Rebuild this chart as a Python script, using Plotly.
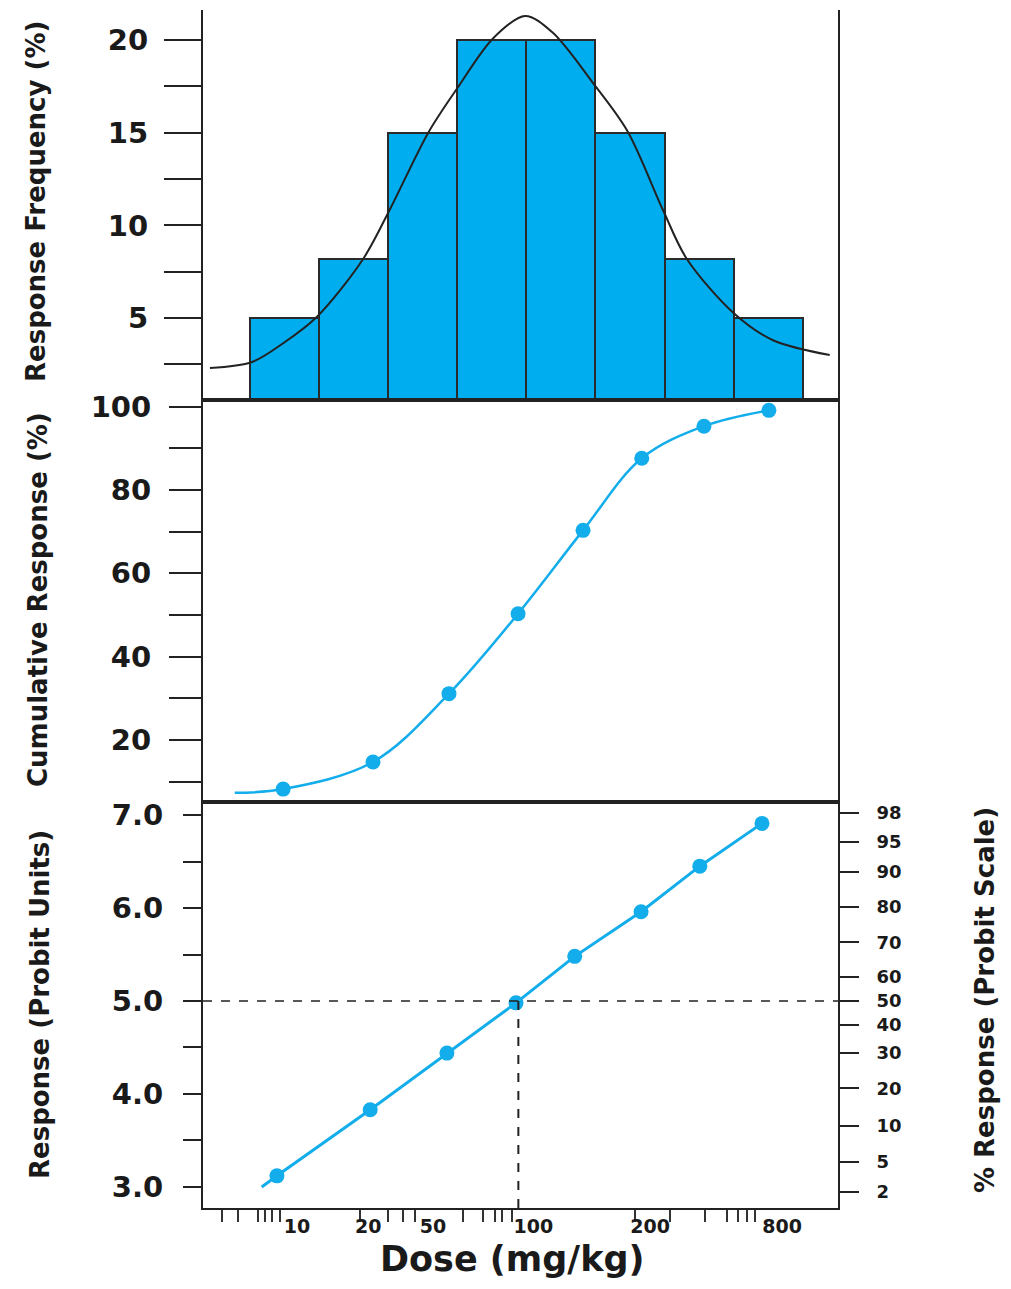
import numpy as np
import plotly.graph_objects as go

# ---------------- data (x = log-dose class position, bins of equal log width) ----------------
bin_centers = [0.5, 1.5, 2.5, 3.5, 4.5, 5.5, 6.5, 7.5]
response_freq = [5, 8.2, 15, 20, 20, 15, 8.2, 5]

normal_curve_x = [-0.58, 0.03, 0.48, 0.97, 1.64, 2.03, 2.58, 3.0, 3.52, 3.98,
                  4.38, 4.96, 5.46, 5.98, 6.32, 6.99, 7.57, 8.39]
normal_curve_y = [2.3, 2.63, 3.64, 5.07, 8.2, 10.9, 15.0, 17.4, 20.1, 21.3,
                  20.4, 17.7, 15.1, 10.8, 8.2, 5.3, 3.8, 3.0]

cum_x = [0.48, 1.78, 2.88, 3.88, 4.82, 5.67, 6.57, 7.51]
cum_y = [8.2, 14.7, 31.1, 50.3, 70.3, 87.6, 95.3, 99.1]
cum_curve_start_x = [-0.22]
cum_curve_start_y = [7.3]

probit_x = [0.39, 1.74, 2.85, 3.85, 4.70, 5.66, 6.51, 7.41]
probit_y = [3.12, 3.83, 4.44, 4.98, 5.48, 5.96, 6.45, 6.91]
probit_line_start_x = [0.17]
probit_line_start_y = [3.0]
probit_50 = 5.0

# tick labels
dose_tick_labels = ["10", "20", "50", "100", "200", "800"]
dose_tick_pos = [0.68, 1.71, 2.65, 4.10, 5.79, 7.70]
dose_minor_pos = [-0.41, -0.17, 0.12, 0.22, 0.32, 0.43, 1.59, 2.00, 2.21, 2.39,
                  3.08, 3.37, 3.55, 3.65, 3.79, 5.57, 6.08, 6.58, 6.90, 7.06, 7.19, 7.31]
pct_labels = ["98", "95", "90", "80", "70", "60", "50", "40", "30", "20", "10", "5", "2"]
pct_probit_pos = [7.02, 6.71, 6.39, 6.01, 5.63, 5.26, 5.0, 4.74, 4.44, 4.06, 3.66, 3.27, 2.95]

# ---------------- styling ----------------
CYAN = "#12ADEA"
BAR = "#00AEEF"
DARK = "#222222"
TXT = "#1a1a1a"
TICKFONT = dict(family="DejaVu Sans", size=29, color=TXT, weight="bold")
TITLEFONT = dict(family="DejaVu Sans", size=26, color=TXT, weight="bold")
XRANGE = [-0.68, 8.51]

# page body has an 8px margin: figure is sized/offset to compensate
OFF = 8
FIG_W, FIG_H = 1011 - 2 * OFF, 1289 - 2 * OFF
PLOT_L, PLOT_R, PLOT_T, PLOT_B = 203, 838, 10, 1208   # target page pixels

fig = go.Figure()

fig.add_trace(go.Bar(x=bin_centers, y=response_freq, width=1.0,
                     marker=dict(color=BAR, line=dict(color="#2a2a2a", width=2)),
                     xaxis="x", yaxis="y", showlegend=False))
fig.add_trace(go.Scatter(x=normal_curve_x, y=normal_curve_y, mode="lines",
                         line=dict(color=DARK, width=2, shape="spline", smoothing=0.9),
                         xaxis="x", yaxis="y", showlegend=False))

fig.add_trace(go.Scatter(x=cum_curve_start_x + cum_x, y=cum_curve_start_y + cum_y, mode="lines",
                         line=dict(color=CYAN, width=2.5, shape="spline", smoothing=1.0),
                         xaxis="x2", yaxis="y2", showlegend=False))
fig.add_trace(go.Scatter(x=cum_x, y=cum_y, mode="markers",
                         marker=dict(color=CYAN, size=15),
                         xaxis="x2", yaxis="y2", showlegend=False))

fig.add_trace(go.Scatter(x=probit_line_start_x + probit_x, y=probit_line_start_y + probit_y,
                         mode="lines", line=dict(color=CYAN, width=3),
                         xaxis="x3", yaxis="y3", showlegend=False))
fig.add_trace(go.Scatter(x=probit_x, y=probit_y, mode="markers",
                         marker=dict(color=CYAN, size=15),
                         xaxis="x3", yaxis="y3", showlegend=False))

# LD50 position from the probit data
ld50_x = float(np.interp(probit_50, probit_y, probit_x))

y3_range = [2.774, 7.14]

fig.add_shape(type="line", xref="x3 domain", yref="y3", x0=0, x1=1, y0=probit_50, y1=probit_50,
              line=dict(color=DARK, width=1.5, dash="dash"))
fig.add_shape(type="line", xref="x3", yref="y3", x0=ld50_x, x1=ld50_x, y0=probit_50, y1=y3_range[0],
              line=dict(color=DARK, width=2, dash="dash"))

common_x = dict(range=XRANGE, showgrid=False, zeroline=False, showline=True,
                linecolor=DARK, linewidth=2, automargin=False)

fig.update_layout(
    width=FIG_W, height=FIG_H,
    margin=dict(l=PLOT_L - OFF, r=FIG_W - (PLOT_R - OFF), t=PLOT_T - OFF, b=FIG_H - (PLOT_B - OFF),
                autoexpand=False),
    paper_bgcolor="white", plot_bgcolor="white",
    bargap=0,
    xaxis=dict(**common_x, anchor="y", showticklabels=False, ticks=""),
    yaxis=dict(domain=[0.6745, 1.0], range=[0.58, 21.62], showgrid=False, zeroline=False,
               showline=True, linecolor=DARK, linewidth=2, mirror=True, automargin=False,
               tickvals=[5, 10, 15, 20], ticks="outside", ticklen=37, tickwidth=2, tickcolor=DARK,
               ticklabelstandoff=10, tickfont=TICKFONT,
               minor=dict(tickmode="array", tickvals=[2.5, 7.5, 12.5, 17.5], ticks="outside",
                          ticklen=37, tickwidth=2, tickcolor=DARK)),
    xaxis2=dict(**common_x, anchor="y2", mirror=True, showticklabels=False, ticks="",
                matches="x"),
    yaxis2=dict(domain=[0.3389, 0.6745], range=[5.1, 101.6], showgrid=False, zeroline=False,
                showline=True, linecolor=DARK, linewidth=2, mirror=True, automargin=False,
                tickvals=[20, 40, 60, 80, 100], ticks="outside", ticklen=32, tickwidth=2,
                tickcolor=DARK, ticklabelstandoff=12, tickfont=TICKFONT,
                minor=dict(tickmode="array", tickvals=[10, 30, 50, 70, 90], ticks="outside",
                           ticklen=32, tickwidth=2, tickcolor=DARK)),
    xaxis3=dict(**common_x, anchor="y3", mirror=True, matches="x",
                tickmode="array", tickvals=dose_tick_pos, ticktext=dose_tick_labels,
                ticks="", ticklabelstandoff=0,
                tickfont=dict(family="DejaVu Sans", size=19, color=TXT, weight="bold"),
                minor=dict(tickmode="array", tickvals=dose_minor_pos, ticks="outside",
                           ticklen=12, tickwidth=2, tickcolor="#333333")),
    yaxis3=dict(domain=[0.0, 0.3389], range=y3_range, showgrid=False, zeroline=False,
                showline=True, linecolor=DARK, linewidth=2, mirror=True, automargin=False,
                tickvals=[3, 4, 5, 6, 7], tickformat=".1f", ticks="outside", ticklen=18,
                tickwidth=2, tickcolor=DARK, ticklabelstandoff=14, tickfont=TICKFONT,
                minor=dict(tickmode="array", tickvals=[3.5, 4.5, 5.5, 6.5], ticks="outside",
                           ticklen=18, tickwidth=2, tickcolor=DARK)),
    yaxis4=dict(overlaying="y3", side="right", anchor="x3", range=y3_range,
                showgrid=False, zeroline=False, showline=False, automargin=False,
                tickmode="array", tickvals=pct_probit_pos, ticktext=pct_labels,
                ticks="outside", ticklen=20, tickwidth=2, tickcolor=DARK,
                ticklabelstandoff=14,
                tickfont=dict(family="DejaVu Sans", size=18, color=TXT, weight="bold")),
)

# invisible trace so the right-hand probit-scale axis is rendered
fig.add_trace(go.Scatter(x=probit_x, y=probit_y, mode="markers", marker=dict(opacity=0),
                         xaxis="x3", yaxis="y4", showlegend=False, hoverinfo="skip"))

PW = float(PLOT_R - PLOT_L)
PH = float(PLOT_B - PLOT_T)

def px_x(px):
    return (px - PLOT_L) / PW

def px_y(py):
    return (PLOT_B - py) / PH

titles = [
    ("Response Frequency (%)", 36, 202),
    ("Cumulative Response (%)", 38, 600),
    ("Response (Probit Units)", 40, 1005),
    ("% Response (Probit Scale)", 985, 1000),
]
for text, x, y in titles:
    fig.add_annotation(text=text, xref="paper", yref="paper", x=px_x(x), y=px_y(y),
                       textangle=-90, showarrow=False, xanchor="center", yanchor="middle",
                       font=TITLEFONT)

fig.add_annotation(text="Dose (mg/kg)", xref="paper", yref="paper", x=px_x(512), y=px_y(1280),
                   showarrow=False, xanchor="center", yanchor="bottom", borderpad=0,
                   font=dict(family="DejaVu Sans", size=35, color=TXT, weight="bold"))

fig.write_html("out.html")
